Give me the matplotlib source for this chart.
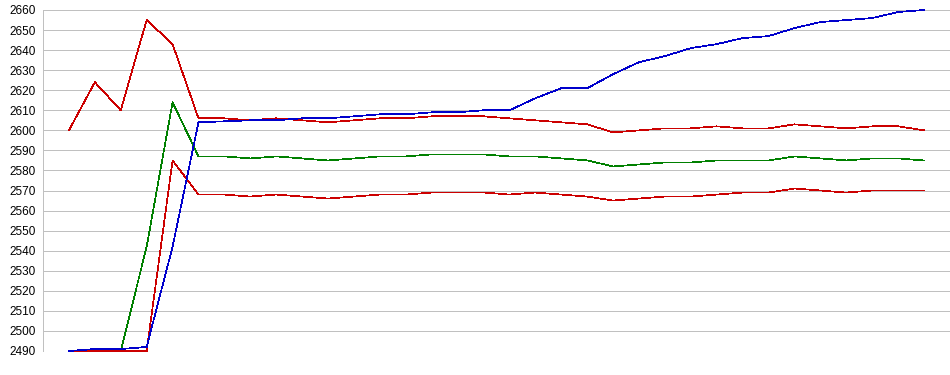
import matplotlib
matplotlib.use("Agg")
import matplotlib.pyplot as plt
import numpy as np

# x positions are simply sample indices (no x labels in the chart)
n_points = 34
x = list(range(n_points))

red_top = [2600, 2624, 2610, 2655, 2643, 2606, 2606, 2605, 2606, 2605,
           2604, 2605, 2606, 2606, 2607, 2607, 2607, 2606, 2605, 2604,
           2603, 2599, 2600, 2601, 2601, 2602, 2601, 2601, 2603, 2602,
           2601, 2602, 2602, 2600]

green = [2490, 2490, 2490, 2542, 2614, 2587, 2587, 2586, 2587, 2586,
         2585, 2586, 2587, 2587, 2588, 2588, 2588, 2587, 2587, 2586,
         2585, 2582, 2583, 2584, 2584, 2585, 2585, 2585, 2587, 2586,
         2585, 2586, 2586, 2585]

red_low = [2490, 2490, 2490, 2490, 2585, 2568, 2568, 2567, 2568, 2567,
           2566, 2567, 2568, 2568, 2569, 2569, 2569, 2568, 2569, 2568,
           2567, 2565, 2566, 2567, 2567, 2568, 2569, 2569, 2571, 2570,
           2569, 2570, 2570, 2570]

blue = [2490, 2491, 2491, 2492, 2542, 2604, 2604.5, 2605, 2605, 2606,
        2606, 2607, 2608, 2608, 2609, 2609, 2610, 2610, 2616, 2621,
        2621, 2628, 2634, 2637, 2641, 2643, 2646, 2647, 2651, 2654,
        2655, 2656, 2659, 2660]

y_ticks = list(range(2490, 2661, 10))

W, H = 950, 375
fig = plt.figure(figsize=(W / 100, H / 100), dpi=100)
ax = fig.add_axes([43 / W, (H - 351) / H, (W - 43) / W, 341 / H])

lw = 0.5
series = [(green, "#008000"), (red_low, "#CC0000"), (red_top, "#CC0000"), (blue, "#0000CC")]
for data, col in series:
    ax.plot(x, data, color=col, linewidth=lw, clip_on=False, antialiased=False, zorder=3)

ax.set_xlim(-1, 34)
ax.set_ylim(2490, 2660)
ax.set_yticks(y_ticks)
ax.set_xticks([])
ax.yaxis.grid(True, color="#C0C0C0", linewidth=0.7, antialiased=False)
ax.set_axisbelow(True)
for s in ["top", "right", "bottom"]:
    ax.spines[s].set_visible(False)
ax.spines["left"].set_color("#C0C0C0")
ax.spines["left"].set_linewidth(0.7)
ax.spines["left"].set_antialiased(False)
ax.tick_params(axis="y", length=0, pad=5, labelsize=8.5, labelcolor="#000000")
for lab in ax.get_yticklabels():
    lab.set_fontfamily(["Liberation Sans", "DejaVu Sans"])

fig.savefig("out.png", dpi=100)
